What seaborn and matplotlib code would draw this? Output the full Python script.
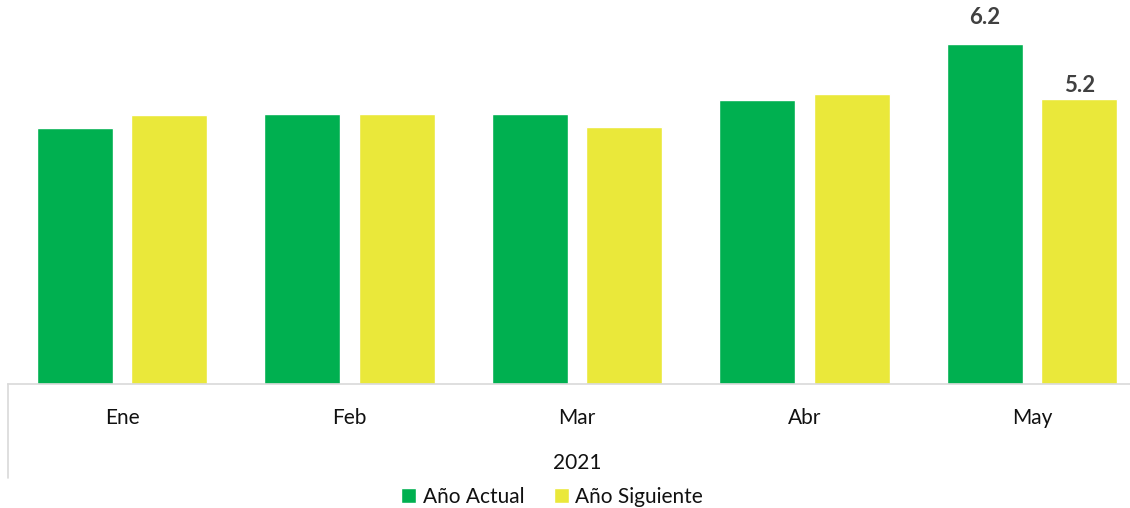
import matplotlib
matplotlib.use("Agg")
import matplotlib.pyplot as plt
import seaborn as sns
import pandas as pd

months = ["Ene", "Feb", "Mar", "Abr", "May"]
year_label = "2021"
series = ["Año Actual", "Año Siguiente"]
actual = [4.67, 4.93, 4.93, 5.19, 6.2]
siguiente = [4.91, 4.92, 4.69, 5.29, 5.2]
colors = ["#00B050", "#EAE83A"]
shown_labels = {"Año Actual": {"May": "6.2"}, "Año Siguiente": {"May": "5.2"}}

df = pd.DataFrame({
    "Mes": months * 2,
    "Serie": [series[0]] * len(months) + [series[1]] * len(months),
    "Valor": actual + siguiente,
})

sns.set_theme(style="white")
plt.rcParams["font.family"] = ["Lato", "DejaVu Sans"]

W, H = 1130, 508
fig = plt.figure(figsize=(W / 100, H / 100), dpi=100)
left_px, base_px, cat_px, unit_px = 8.25, 384, 227.5, 54.8
ax = fig.add_axes([left_px / W, (H - base_px) / H, 1 - left_px / W, base_px / H])

sns.barplot(data=df, x="Mes", y="Valor", hue="Serie", hue_order=series,
            palette=colors, width=0.833, gap=0.2, saturation=1,
            errorbar=None, ax=ax)

ax.set_xlim(-0.5, -0.5 + (W - left_px) / cat_px)
ax.set_ylim(0, base_px / unit_px)

for s in ["top", "right", "left"]:
    ax.spines[s].set_visible(False)
ax.spines["bottom"].set_color("#d9d9d9")
ax.spines["bottom"].set_linewidth(1.2)
ax.plot([0, 0], [0, -94 / base_px], transform=ax.transAxes, clip_on=False,
        color="#d9d9d9", lw=1.2)

ax.set_yticks([])
ax.set_xlabel("")
ax.set_ylabel("")
ax.tick_params(axis="x", length=0, pad=17, labelsize=15, labelcolor="#111111")

pads = [12.0, 2.4]
for cont, name, pad in zip(ax.containers, series, pads):
    labs = [shown_labels[name].get(m, "") for m in months]
    ax.bar_label(cont, labels=labs, padding=pad, fontsize=16, fontweight="bold",
                 color="#404040")

fig.text(577 / W, 1 - 462.7 / H, year_label, ha="center", va="center",
         fontsize=15, color="#111111")

handles, labels = ax.get_legend_handles_labels()
ax.legend(handles, labels, loc="center", bbox_to_anchor=(552 / W, 1 - 496.7 / H),
          bbox_transform=fig.transFigure, ncol=2, frameon=False,
          handlelength=0.75, handleheight=0.75, handletextpad=0.3,
          columnspacing=1.4, fontsize=15, borderpad=0, borderaxespad=0,
          labelcolor="#111111")

fig.savefig("out.png", dpi=100)
